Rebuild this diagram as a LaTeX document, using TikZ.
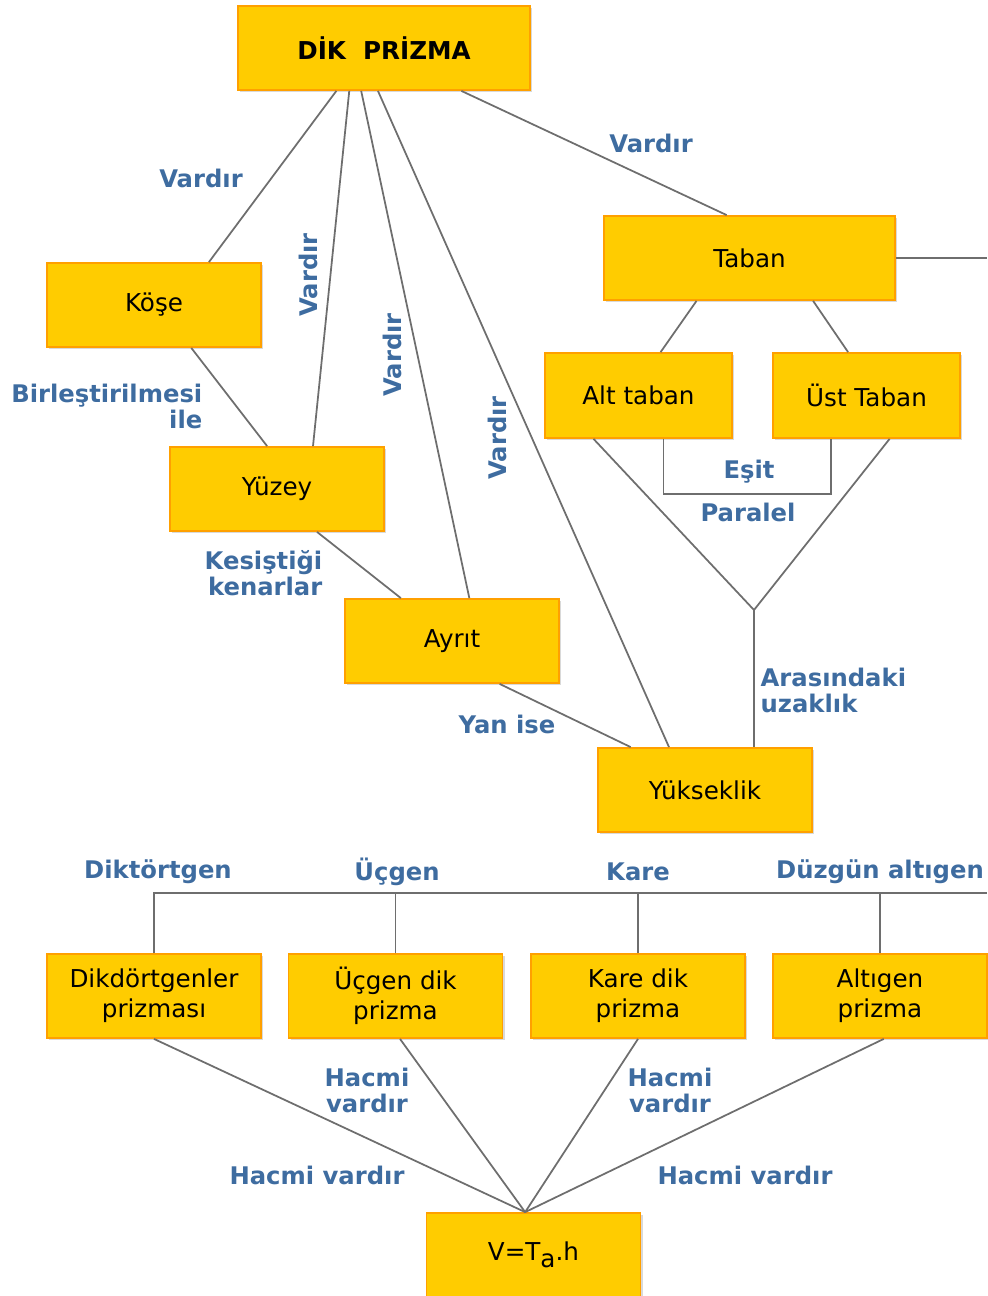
\documentclass[tikz,border=0pt]{standalone}
\usepackage{fontspec}
\setmainfont{DejaVu Sans}
\usetikzlibrary{shadows}
\definecolor{kutusari}{RGB}{255,204,0}
\definecolor{kutucerceve}{RGB}{255,160,0}
\definecolor{etiketmavi}{RGB}{62,108,160}
\definecolor{cizgi}{RGB}{110,110,110}
\tikzstyle{kutu} = [rectangle, draw=kutucerceve, fill=kutusari, line width=0.5pt,
    minimum width=2.14cm, minimum height=0.84cm, inner sep=0pt, align=center,
    font=\fontsize{7}{8.5}\selectfont,
    drop shadow={shadow xshift=0.6pt, shadow yshift=-0.6pt, opacity=0.3}]
\tikzstyle{etiket} = [text=etiketmavi, font=\bfseries\fontsize{6.9}{7.4}\selectfont, inner sep=0pt]
\tikzstyle{bag} = [draw=cizgi, line width=0.5pt]

\begin{document}
\begin{tikzpicture}[x=0.01cm,y=-0.01cm]
\useasboundingbox (0,0) rectangle (987,1296);

% kutular
\node[kutu,minimum width=2.92cm,font=\bfseries\fontsize{7}{8.5}\selectfont] (dik) at (384,48) {DİK\ \ PRİZMA};
\node[kutu] (kose) at (154,305) {Köşe};
\node[kutu,minimum width=2.91cm] (taban) at (749.5,258) {Taban};
\node[kutu,minimum width=1.87cm,minimum height=0.85cm] (alt) at (638.5,395.5) {Alt taban};
\node[kutu,minimum width=1.87cm,minimum height=0.85cm] (ust) at (866.5,395.5) {Üst Taban};
\node[kutu] (yuzey) at (277,489) {Yüzey};
\node[kutu] (ayrit) at (452,641) {Ayrıt};
\node[kutu] (yuk) at (705,790) {Yükseklik};

\node[kutu] (dd) at (154,996) {Dikdörtgenler\\prizması};
\node[kutu] (ucp) at (395.5,996) {Üçgen dik\\prizma};
\node[kutu] (karep) at (638,996) {Kare dik\\prizma};
\node[kutu] (altip) at (880,996) {Altıgen\\prizma};
\node[kutu] (hacim) at (533.5,1255) {V=T\raisebox{-0.5ex}{a}.h};

\coordinate (birles) at (754,610);
\coordinate (sagust) at (987,253);
\coordinate (sagalt) at (987,893);

% baglar
\draw[bag] (dik.222) -- (kose.38);
\draw[bag] (dik.231) -- (yuzey.50);
\draw[bag] (dik.242) -- (ayrit.68);
\draw[bag] (dik.262) -- (yuk.130);
\draw[bag] (dik.331) -- (taban.118);
\draw[bag] (kose.311) -- (yuzey.103);
\draw[bag] (yuzey.313) -- (ayrit.140);
\draw[bag] (ayrit.318) -- (yuk.150);
\draw[bag] (taban.east) -- (taban.east -| sagust);
\draw[bag] (taban.219) -- (alt.63);
\draw[bag] (taban.326) -- (ust.113);
\draw[bag] (alt.300) -- ++(0,55) -| (ust.231);
\draw[bag] (alt.224) -- (birles);
\draw[bag] (ust.298) -- (birles);
\draw[bag] (birles) -- (birles |- yuk.north);

\draw[bag] (dd.north) |- (sagalt);
\draw[bag] (ucp.north) -- (ucp.north |- sagalt);
\draw[bag] (karep.north) -- (karep.north |- sagalt);
\draw[bag] (altip.north) -- (altip.north |- sagalt);

\draw[bag] (dd.south) -- (hacim.101);
\draw[bag] (ucp.276) -- (hacim.101);
\draw[bag] (karep.south) -- (hacim.101);
\draw[bag] (altip.275) -- (hacim.101);

% etiketler
\node[etiket] (v1) at (201,178) {Vardır};
\node[etiket,rotate=90] (v2) at (308,275) {Vardır};
\node[etiket,rotate=90] (v3) at (392,355) {Vardır};
\node[etiket,rotate=90] (v4) at (497,438) {Vardır};
\node[etiket] (v5) at (651,143) {Vardır};
\node[etiket,anchor=east,align=right] (birl) at (203,406) {Birleştirilmesi\\ile};
\node[etiket,anchor=east,align=right] (kes) at (323,573) {Kesiştiği\\kenarlar};
\node[etiket] (yan) at (507,724) {Yan ise};
\node[etiket] (esit) at (749,472) {Eşit};
\node[etiket] (paralel) at (748,512) {Paralel};
\node[etiket,anchor=west,align=left] (aras) at (760,690) {Arasındaki\\uzaklık};

\node[etiket] (e1) at (158,872) {Diktörtgen};
\node[etiket] (e2) at (397,872) {Üçgen};
\node[etiket] (e3) at (638,872) {Kare};
\node[etiket] (e4) at (880,872) {Düzgün altıgen};

\node[etiket] (h1) at (317,1175) {Hacmi vardır};
\node[etiket,align=center] (h2) at (367,1090) {Hacmi\\vardır};
\node[etiket,align=center] (h3) at (670,1090) {Hacmi\\vardır};
\node[etiket] (h4) at (745,1175) {Hacmi vardır};

\end{tikzpicture}
\end{document}
